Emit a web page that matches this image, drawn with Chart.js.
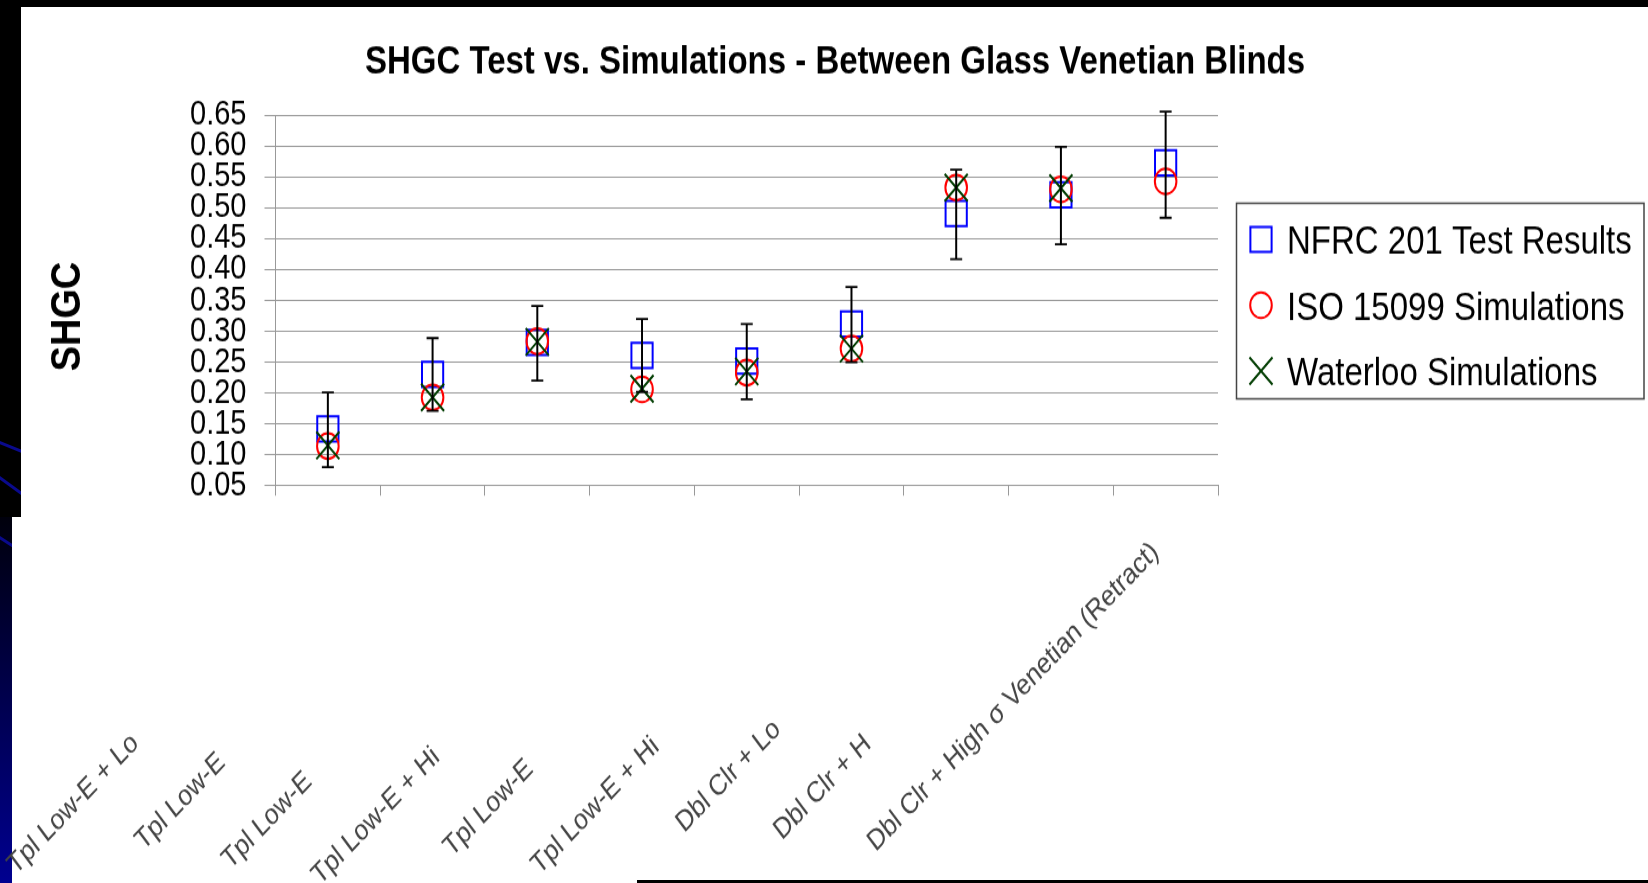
<!DOCTYPE html>
<html>
<head>
<meta charset="utf-8">
<script src="https://cdn.jsdelivr.net/npm/chart.js@4.4.1/dist/chart.umd.min.js"></script>
<style>
  html, body {
    margin: 0;
    padding: 0;
    width: 1648px;
    height: 883px;
    overflow: hidden;
    background: #fff;
    position: relative;
  }
  .band { position: absolute; }
  .streak {
    position: absolute;
    height: 3px;
    width: 40px;
    background: #0a0a8c;
    transform-origin: 0 0;
  }
  /* the source picture is stretched vertically, so the chart is too */
  #wrap {
    position: absolute;
    left: 0;
    top: 0;
    width: 1648px;
    height: 745px;
    transform-origin: 0 0;
    transform: scaleY(1.1852);
  }
</style>
</head>
<body>
<div class="band" style="left:0;top:0;width:1648px;height:7px;background:#000"></div>
<div class="band" style="left:0;top:0;width:21px;height:517px;background:#000;overflow:hidden">
  <div class="streak" style="left:0;top:441px;transform:rotate(22deg)"></div>
  <div class="streak" style="left:0;top:476px;transform:rotate(36deg)"></div>
</div>
<div class="band" style="left:0;top:517px;width:12px;height:366px;background:linear-gradient(#00000c,#000090);overflow:hidden">
  <div class="streak" style="left:0;top:19px;transform:rotate(33deg)"></div>
</div>
<div class="band" style="left:637px;top:880px;width:1011px;height:3px;background:#000"></div>

<div id="wrap"><canvas id="shgcChart"></canvas></div>

<script>
const categories = [
  "Tpl Low-E + Lo",
  "Tpl Low-E",
  "Tpl Low-E",
  "Tpl Low-E + Hi",
  "Tpl Low-E",
  "Tpl Low-E + Hi",
  "Dbl Clr + Lo",
  "Dbl Clr + H",
  "Dbl Clr + High σ Venetian (Retract)"
];

const nfrcTest    = [0.142, 0.230, 0.282, 0.261, 0.252, 0.312, 0.491, 0.521, 0.573];
const nfrcErrLow  = [0.080, 0.171, 0.220, 0.202, 0.190, 0.250, 0.417, 0.441, 0.484];
const nfrcErrHigh = [0.201, 0.289, 0.341, 0.320, 0.312, 0.372, 0.562, 0.599, 0.656];
const iso15099    = [0.114, 0.193, 0.284, 0.206, 0.233, 0.272, 0.533, 0.530, 0.543];
const waterloo    = [0.115, 0.193, 0.283, 0.207, 0.235, 0.272, 0.533, 0.532, null];

const yMin = 0.05;
const yMax = 0.65;
const yStep = 0.05;

const seriesNames = ["NFRC 201 Test Results", "ISO 15099 Simulations", "Waterloo Simulations"];

// how far each (clipped) category label starts down-left of its category
const labelShift = [312, 289, 307, 322, 295, 312, 272, 279, 290];
const LABEL_ANGLE = 41.5 * Math.PI / 180;

const FONT = "'Liberation Sans', Arial, sans-serif";

const errorBars = {
  id: "errorBars",
  afterDatasetsDraw(chart) {
    const { ctx, scales: { x, y } } = chart;
    ctx.save();
    ctx.strokeStyle = "#000";
    nfrcTest.forEach((v, i) => {
      const px = x.getPixelForValue(i);
      const top = y.getPixelForValue(nfrcErrHigh[i]);
      const bottom = y.getPixelForValue(nfrcErrLow[i]);
      ctx.lineWidth = 2;
      ctx.beginPath();
      ctx.moveTo(px, top);
      ctx.lineTo(px, bottom);
      ctx.stroke();
      ctx.lineWidth = 1.8;
      ctx.beginPath();
      ctx.moveTo(px - 6, top);
      ctx.lineTo(px + 6, top);
      ctx.moveTo(px - 6, bottom);
      ctx.lineTo(px + 6, bottom);
      ctx.stroke();
    });
    ctx.restore();
  }
};

const extraText = {
  id: "extraText",
  afterDraw(chart) {
    const { ctx, chartArea, scales: { x } } = chart;

    // title
    ctx.save();
    ctx.fillStyle = "#000";
    ctx.font = "bold 33px " + FONT;
    ctx.textAlign = "center";
    ctx.textBaseline = "alphabetic";
    ctx.fillText("SHGC Test vs. Simulations - Between Glass Venetian Blinds", 835, 62);
    ctx.restore();

    // y axis title
    ctx.save();
    ctx.fillStyle = "#000";
    ctx.font = "bold 32px " + FONT;
    ctx.textAlign = "center";
    ctx.textBaseline = "middle";
    ctx.translate(68, 267);
    ctx.rotate(-Math.PI / 2);
    ctx.scale(1, 1.35);
    ctx.fillText("SHGC", 0, 0);
    ctx.restore();

    // category labels, rotated
    ctx.save();
    ctx.fillStyle = "#444";
    ctx.font = "24.5px " + FONT;
    ctx.textAlign = "left";
    ctx.textBaseline = "alphabetic";
    categories.forEach((label, i) => {
      const cx = x.getPixelForValue(i);
      ctx.save();
      ctx.translate(cx - labelShift[i], chartArea.bottom + 52.7 + labelShift[i] * Math.tan(LABEL_ANGLE));
      ctx.rotate(-LABEL_ANGLE);
      ctx.fillText(label, 0, 0);
      ctx.restore();
    });
    ctx.restore();

    // legend box
    ctx.save();
    ctx.strokeStyle = "#444";
    ctx.lineWidth = 1.5;
    ctx.strokeRect(1236.5, 171.5, 407.5, 165);
    chart.data.datasets.forEach((ds, i) => {
      const rowY = 202 + i * 55.5;
      ctx.fillStyle = "rgba(0,0,0,0)";
      ctx.strokeStyle = ds.pointBorderColor;
      ctx.lineWidth = ds.pointBorderWidth;
      Chart.helpers.drawPoint(ctx, {
        pointStyle: ds.pointStyle,
        radius: ds.pointRadius,
        borderWidth: ds.pointBorderWidth,
        rotation: 0
      }, 1261, rowY);
      ctx.fillStyle = "#000";
      ctx.font = "33px " + FONT;
      ctx.textAlign = "left";
      ctx.textBaseline = "alphabetic";
      ctx.fillText(ds.label, 1287, rowY + 12);
    });
    ctx.restore();
  }
};

new Chart(document.getElementById("shgcChart"), {
  type: "line",
  data: {
    labels: categories,
    datasets: [
      {
        label: seriesNames[0],
        data: nfrcTest,
        showLine: false,
        pointStyle: "rect",
        pointRadius: 15,
        pointBorderWidth: 2,
        pointBorderColor: "#0000ff",
        pointBackgroundColor: "rgba(0,0,0,0)",
        order: 3
      },
      {
        label: seriesNames[1],
        data: iso15099,
        showLine: false,
        pointStyle: "circle",
        pointRadius: 10.8,
        pointBorderWidth: 2,
        pointBorderColor: "#ff0000",
        pointBackgroundColor: "rgba(0,0,0,0)",
        order: 2
      },
      {
        label: seriesNames[2],
        data: waterloo,
        showLine: false,
        pointStyle: "crossRot",
        pointRadius: 16.3,
        pointBorderWidth: 2,
        pointBorderColor: "#003d00",
        pointBackgroundColor: "rgba(0,0,0,0)",
        order: 1
      }
    ]
  },
  options: {
    responsive: true,
    maintainAspectRatio: false,
    animation: false,
    events: [],

    layout: {
      padding: {
        top: 97.3,
        right: 430,
        bottom: 315.3,
        left: 0
      }
    },

    plugins: {
      legend: { display: false },
      title: { display: false },
      tooltip: { enabled: false }
    },

    scales: {
      x: {
        type: "category",
        offset: true,
        grid: {
          display: true,
          drawOnChartArea: false,
          offset: true,
          tickLength: 8.5,
          color: "#999"
        },
        border: { color: "#999" },
        ticks: { display: false },
        afterFit(scale) {
          scale.height = 20;
        }
      },
      y: {
        min: yMin,
        max: yMax,
        grid: {
          color: "#999",
          tickLength: 11
        },
        border: { color: "#999" },
        ticks: {
          stepSize: yStep,
          autoSkip: false,
          padding: 18,
          color: "#000",
          font: { family: FONT, size: 29 },
          callback: value => value.toFixed(2)
        },
        afterFit(scale) {
          scale.width = 275.5;
        }
      }
    }
  },
  plugins: [errorBars, extraText]
});
</script>
</body>
</html>
